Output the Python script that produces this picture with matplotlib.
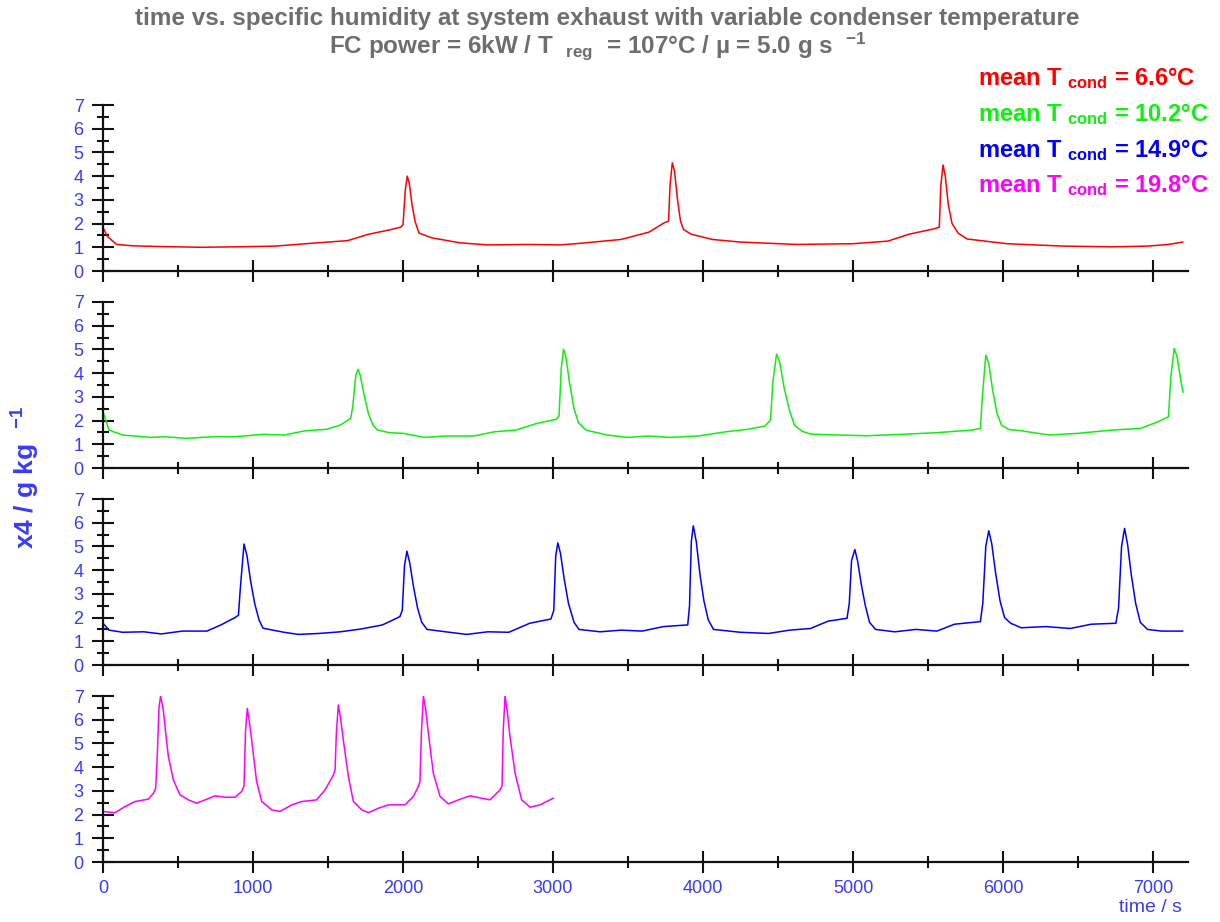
import matplotlib
matplotlib.use("Agg")
import matplotlib.pyplot as plt
from matplotlib.ticker import MultipleLocator

plt.rcParams['font.family'] = ['Liberation Sans', 'DejaVu Sans']
plt.rcParams['mathtext.default'] = 'regular'

# ---------------- data ----------------
t_red = [0, 30, 90, 200, 400, 650, 900, 1150, 1350, 1500, 1630, 1770, 1900, 1985, 2000, 2015, 2028, 2042,
         2060, 2080, 2106, 2190, 2377, 2564, 2845, 3050, 3220, 3453, 3640, 3743, 3770, 3780, 3795, 3810,
         3830, 3850, 3870, 3921, 4062, 4249, 4623, 4998, 5232, 5372, 5541, 5575, 5585, 5600, 5615, 5635,
         5660, 5700, 5760, 6027, 6401, 6729, 6963, 7103, 7197]
x4_red = [1.83, 1.45, 1.12, 1.06, 1.03, 1.0, 1.02, 1.05, 1.15, 1.22, 1.28, 1.55, 1.72, 1.85, 1.95, 3.4, 4.0, 3.7,
          2.8, 2.1, 1.6, 1.4, 1.19, 1.1, 1.12, 1.1, 1.19, 1.33, 1.64, 2.04, 2.1, 3.6, 4.56, 4.2,
          3.0, 2.1, 1.75, 1.55, 1.33, 1.22, 1.12, 1.15, 1.26, 1.55, 1.78, 1.85, 3.6, 4.47, 4.0, 2.8,
          2.0, 1.6, 1.35, 1.15, 1.05, 1.02, 1.05, 1.12, 1.22]

t_green = [0, 40, 130, 318, 412, 552, 739, 880, 1067, 1207, 1348, 1488, 1582, 1651, 1665, 1685, 1700, 1715,
           1740, 1769, 1800, 1830, 1909, 2003, 2143, 2284, 2471, 2611, 2752, 2892, 3023, 3040, 3055, 3070,
           3085, 3110, 3140, 3170, 3219, 3360, 3500, 3640, 3781, 3968, 4155, 4296, 4413, 4450, 4465, 4490,
           4510, 4540, 4577, 4610, 4660, 4717, 4904, 5091, 5325, 5559, 5793, 5849, 5862, 5885, 5905, 5930,
           5960, 5990, 6040, 6121, 6308, 6495, 6729, 6916, 7033, 7103, 7118, 7141, 7160, 7185, 7200]
x4_green = [2.37, 1.6, 1.39, 1.29, 1.32, 1.25, 1.32, 1.32, 1.42, 1.39, 1.57, 1.63, 1.81, 2.09, 2.6, 3.9, 4.16, 3.9,
            3.1, 2.3, 1.8, 1.6, 1.49, 1.46, 1.29, 1.35, 1.35, 1.53, 1.6, 1.88, 2.06, 2.2, 4.2, 5.01,
            4.7, 3.6, 2.5, 1.9, 1.6, 1.39, 1.29, 1.35, 1.29, 1.35, 1.53, 1.63, 1.77, 2.02, 3.6, 4.8,
            4.5, 3.4, 2.4, 1.8, 1.55, 1.43, 1.39, 1.36, 1.42, 1.49, 1.6, 1.67, 3.0, 4.76, 4.4, 3.3,
            2.3, 1.8, 1.62, 1.57, 1.39, 1.46, 1.6, 1.67, 1.95, 2.16, 3.8, 5.04, 4.7, 3.7, 3.2]

t_blue = [0, 40, 130, 271, 388, 529, 693, 786, 880, 903, 915, 940, 960, 985, 1011, 1040, 1067, 1207, 1301,
          1441, 1582, 1722, 1863, 1979, 1995, 2010, 2026, 2045, 2070, 2097, 2125, 2160, 2284, 2424, 2565,
          2705, 2845, 2986, 3005, 3018, 3032, 3050, 3075, 3103, 3140, 3173, 3314, 3454, 3594, 3735, 3898,
          3910, 3922, 3935, 3955, 3980, 4006, 4035, 4070, 4249, 4437, 4577, 4717, 4834, 4960, 4975, 4990,
          5012, 5030, 5055, 5082, 5110, 5150, 5278, 5419, 5559, 5676, 5849, 5865, 5885, 5905, 5925, 5950,
          5980, 6010, 6051, 6121, 6285, 6448, 6588, 6752, 6770, 6790, 6810, 6830, 6855, 6884, 6915, 6963,
          7056, 7197]
x4_blue = [1.76, 1.47, 1.38, 1.40, 1.31, 1.43, 1.43, 1.69, 2.0, 2.1, 3.2, 5.1, 4.6, 3.5, 2.6, 1.9, 1.55, 1.38, 1.29,
           1.33, 1.40, 1.52, 1.69, 2.04, 2.3, 4.2, 4.8, 4.3, 3.3, 2.4, 1.8, 1.5, 1.4, 1.29, 1.4,
           1.38, 1.76, 1.94, 2.3, 4.6, 5.15, 4.7, 3.6, 2.6, 1.8, 1.5, 1.4, 1.47, 1.43, 1.62, 1.69,
           2.5, 5.2, 5.87, 5.2, 3.8, 2.7, 1.9, 1.5, 1.38, 1.33, 1.47, 1.54, 1.85, 1.97, 2.6, 4.4,
           4.87, 4.4, 3.4, 2.5, 1.8, 1.5, 1.4, 1.5, 1.43, 1.72, 1.83, 2.6, 5.0, 5.66, 5.1, 3.9,
           2.7, 2.0, 1.76, 1.57, 1.62, 1.54, 1.72, 1.76, 2.4, 5.0, 5.76, 5.1, 3.8, 2.6, 1.8, 1.5,
           1.43, 1.43]

t_magenta = [0, 80, 147, 213, 302, 336, 351, 362, 373, 384, 402, 420, 436, 469, 513, 569, 624, 680, 747, 813,
             880, 924, 940, 950, 962, 976, 991, 1024, 1058, 1124, 1180, 1258, 1324, 1424, 1480, 1536, 1547,
             1556, 1569, 1585, 1602, 1636, 1669, 1724, 1769, 1836, 1902, 2013, 2069, 2102, 2113, 2123, 2136,
             2152, 2169, 2202, 2247, 2302, 2369, 2447, 2524, 2580, 2613, 2647, 2660, 2668, 2680, 2696, 2713,
             2747, 2791, 2847, 2913, 3002]
x4_magenta = [2.13, 2.08, 2.34, 2.55, 2.65, 2.9, 3.1, 4.5, 6.5, 7.0, 6.41, 5.3, 4.44, 3.46, 2.83, 2.62, 2.48, 2.62, 2.79, 2.73,
              2.73, 2.97, 3.2, 5.5, 6.48, 5.9, 5.15, 3.39, 2.55, 2.2, 2.13, 2.41, 2.55, 2.62, 3.04, 3.67, 3.88,
              5.5, 6.62, 6.0, 5.15, 3.6, 2.55, 2.2, 2.08, 2.27, 2.41, 2.41, 2.76, 3.18, 3.4, 5.5, 7.0,
              6.4, 5.43, 3.74, 2.76, 2.45, 2.62, 2.79, 2.69, 2.62, 2.83, 3.04, 3.2, 5.5, 7.0, 6.3, 5.3,
              3.74, 2.62, 2.31, 2.41, 2.69]

series = [(t_red, x4_red, '#ff0000'), (t_green, x4_green, '#11ee11'),
          (t_blue, x4_blue, '#0000ff'), (t_magenta, x4_magenta, '#ff00ff')]
legend_labels = ['6.6', '10.2', '14.9', '19.8']
x_ticks = [0, 1000, 2000, 3000, 4000, 5000, 6000, 7000]
y_ticks = [0, 1, 2, 3, 4, 5, 6, 7]

LABEL_BLUE = '#3a3aff'
W, H = 1220, 922
fig = plt.figure(figsize=(W / 100, H / 100), dpi=100)

left = 103 / W
width = (1188 - 103) / W
bottoms_px = [271, 468, 665, 862]
height = 166 / H

for i, (t, v, c) in enumerate(series):
    ax = fig.add_axes([left, 1 - bottoms_px[i] / H, width, height])
    ax.plot(t, v, color=c, lw=1.1)
    ax.set_xlim(0, 7233)
    ax.set_ylim(0, 7)
    ax.set_xticks(x_ticks)
    ax.xaxis.set_minor_locator(MultipleLocator(500))
    ax.set_yticks(y_ticks)
    ax.yaxis.set_minor_locator(MultipleLocator(0.5))
    for s in ['top', 'right']:
        ax.spines[s].set_visible(False)
    for s in ['left', 'bottom']:
        ax.spines[s].set_linewidth(1.6)
        ax.spines[s].set_color('#111111')
    ax.tick_params(which='major', direction='inout', length=16, width=1.5, color='#111111',
                   labelsize=13, labelcolor=LABEL_BLUE, pad=5)
    ax.tick_params(which='minor', direction='inout', length=8.5, width=1.5, color='#111111')
    ax.tick_params(axis='y', which='major', pad=6)
    if i < 3:
        ax.tick_params(axis='x', labelbottom=False)
    ax.patch.set_visible(False)

# titles
fig.text(0.498, 0.980, 'time vs. specific humidity at system exhaust with variable condenser temperature',
         ha='center', va='center', fontsize=17.5, fontweight='bold', color='#6e6e6e')
fig.text(0.490, 0.950, r'FC power = 6kW / T  $_{reg}$  = 107°C / µ = 5.0 g s  $^{-1}$',
         ha='center', va='center', fontsize=17.5, fontweight='bold', color='#6e6e6e')

# legend texts
base_px = [85, 121, 157, 192]
for (t, v, c), lab, b in zip(series, legend_labels, base_px):
    fig.text(978 / W, 1 - b / H, r'mean T $_{cond}$ = ' + lab + '°C', ha='left', va='baseline',
             fontsize=17, fontweight='bold', color=c)

# axis labels
fig.text(0.021, 0.482, r'x4 / g kg  $^{-1}$', rotation=90, ha='center', va='center',
         fontsize=19, fontweight='bold', color=LABEL_BLUE)
fig.text(0.943, 0.016, 'time / s', ha='center', va='center', fontsize=14, color=LABEL_BLUE)

fig.savefig('out.png', dpi=100)
